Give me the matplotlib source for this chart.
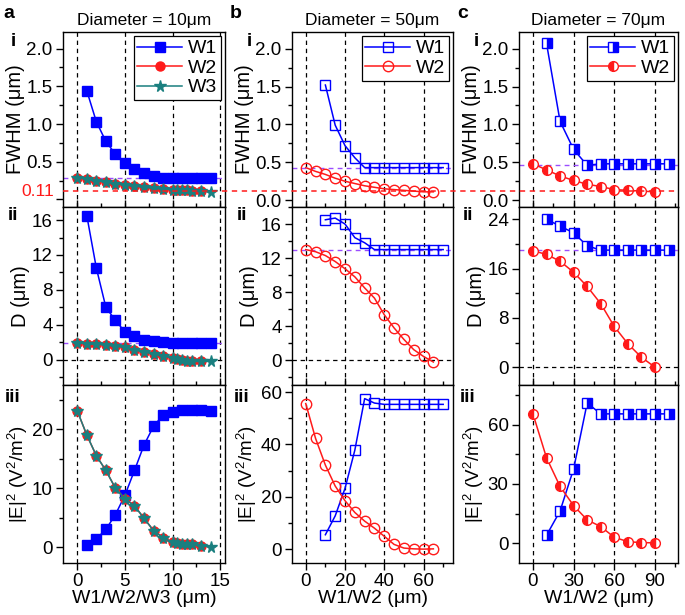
import matplotlib
matplotlib.use("Agg")
import matplotlib.pyplot as plt
from matplotlib.lines import Line2D
from matplotlib.ticker import MultipleLocator

plt.rcParams['font.family'] = ['Liberation Sans', 'DejaVu Sans']
plt.rcParams['mathtext.fontset'] = 'custom'
plt.rcParams['mathtext.rm'] = 'Liberation Sans'
plt.rcParams['mathtext.it'] = 'Liberation Sans:italic'
plt.rcParams['mathtext.bf'] = 'Liberation Sans:bold'

BLUE = '#0000ff'
RED = '#ff1a1a'
TEAL = '#1a7f7f'
PURPLE = '#9a4dff'

# ---- panel a: diameter 10 um ----
a_w1_x = [1, 2, 3, 4, 5, 6, 7, 8, 9, 10, 11, 12, 13, 14]
a_w1_fwhm = [1.44, 1.03, 0.77, 0.60, 0.48, 0.40, 0.35, 0.31, 0.29, 0.28, 0.28, 0.28, 0.28, 0.28]
a_w1_d = [16.5, 10.5, 6.0, 4.5, 3.2, 2.75, 2.3, 2.1, 2.0, 1.95, 1.95, 1.95, 1.95, 1.95]
a_w1_e = [0.4, 1.4, 3.0, 5.5, 8.8, 13.0, 17.3, 20.5, 22.4, 23.0, 23.2, 23.2, 23.2, 23.1]

a_w2_x = [0, 1, 2, 3, 4, 5, 6, 7, 8, 9, 10, 10.5, 11, 11.5, 12, 13]
a_w2_fwhm = [0.29, 0.27, 0.25, 0.23, 0.21, 0.19, 0.18, 0.16, 0.15, 0.14, 0.13, 0.125, 0.12, 0.12, 0.115, 0.11]
a_w2_d = [1.93, 1.85, 1.77, 1.7, 1.55, 1.4, 1.15, 0.9, 0.67, 0.45, 0.2, 0.1, 0.0, -0.1, -0.2, -0.2]
a_w2_e = [23.1, 19.0, 15.5, 13.0, 10.0, 8.2, 7.0, 4.9, 2.8, 1.6, 0.8, 0.7, 0.6, 0.6, 0.5, 0.2]

a_w3_x = [0, 1, 2, 3, 4, 5, 6, 7, 8, 9, 10, 10.5, 11, 11.5, 12, 13, 14]
a_w3_fwhm = [0.29, 0.27, 0.25, 0.23, 0.21, 0.19, 0.18, 0.16, 0.15, 0.14, 0.13, 0.125, 0.12, 0.12, 0.115, 0.11, 0.10]
a_w3_d = [1.93, 1.85, 1.77, 1.7, 1.55, 1.4, 1.15, 0.9, 0.67, 0.45, 0.2, 0.1, 0.0, -0.1, -0.2, -0.2, -0.2]
a_w3_e = [23.1, 19.0, 15.5, 13.0, 10.0, 8.2, 7.0, 4.9, 2.8, 1.6, 0.8, 0.7, 0.6, 0.6, 0.5, 0.2, 0.05]

# ---- panel b: diameter 50 um ----
b_w1_x = [10, 15, 20, 25, 30, 35, 40, 45, 50, 55, 60, 65, 70]
b_w1_fwhm = [1.52, 0.99, 0.72, 0.56, 0.43, 0.43, 0.43, 0.43, 0.43, 0.43, 0.43, 0.43, 0.43]
b_w1_d = [16.5, 16.7, 16.0, 14.4, 13.8, 13.0, 13.0, 13.0, 13.0, 13.0, 13.0, 13.0, 13.0]
b_w1_e = [5.5, 12.7, 23.2, 37.8, 57.5, 55.8, 55.3, 55.3, 55.3, 55.3, 55.3, 55.3, 55.3]

b_w2_x = [0, 5, 10, 15, 20, 25, 30, 35, 40, 45, 50, 55, 60, 65]
b_w2_fwhm = [0.43, 0.38, 0.34, 0.29, 0.25, 0.22, 0.19, 0.17, 0.15, 0.14, 0.13, 0.12, 0.11, 0.11]
b_w2_d = [13.0, 12.75, 12.3, 11.6, 10.75, 9.8, 8.5, 7.3, 5.35, 3.8, 2.45, 1.25, 0.45, -0.2]
b_w2_e = [55.6, 42.3, 32.1, 24.1, 18.5, 14.0, 10.7, 8.0, 4.9, 1.8, 0.4, 0.1, 0.0, 0.1]

# ---- panel c: diameter 70 um ----
c_w1_x = [10, 20, 30, 40, 50, 60, 70, 80, 90, 100]
c_w1_fwhm = [2.07, 1.04, 0.67, 0.46, 0.48, 0.48, 0.48, 0.48, 0.48, 0.48]
c_w1_d = [24.0, 22.9, 21.8, 19.7, 19.0, 19.0, 19.0, 19.0, 19.0, 19.0]
c_w1_e = [4.0, 16.3, 37.6, 70.9, 65.4, 65.4, 65.4, 65.4, 65.4, 65.4]

c_w2_x = [0, 10, 20, 30, 40, 50, 60, 70, 80, 90]
c_w2_fwhm = [0.48, 0.40, 0.32, 0.26, 0.21, 0.18, 0.14, 0.13, 0.12, 0.11]
c_w2_d = [18.9, 18.3, 17.2, 15.4, 13.1, 10.3, 6.6, 3.8, 1.6, 0.0]
c_w2_e = [65.4, 43.2, 28.7, 19.0, 11.8, 8.4, 3.0, 0.8, 0.3, 0.2]

diameters = ['10', '50', '70']
letters = ['a', 'b', 'c']
xlabels = ['W1/W2/W3 (\u03bcm)', 'W1/W2 (\u03bcm)', 'W1/W2 (\u03bcm)']
ylabels = ['FWHM (\u03bcm)', 'D (\u03bcm)', '|E|$^2$ (V$^2$/m$^2$)']
ylabel_fs = [14.5, 14.5, 13.5]
row_names = ['i', 'ii', 'iii']

fig = plt.figure(figsize=(6.85, 6.15), dpi=100)

W, H = 685.0, 615.0
col_px = [(63, 225), (292, 453), (519, 678)]
row_px = [(32, 207), (207, 385), (385, 563)]

xlims = [(-1.5, 15.5), (-7, 75), (-10.3, 107)]
xmajor = [5, 20, 30]
xvlines = [[0, 5, 10, 15], [0, 20, 40, 60], [0, 30, 60, 90]]
xticks = [[0, 5, 10, 15], [0, 20, 40, 60], [0, 30, 60, 90]]

ylims = [
    [(-0.1, 2.22), (-2.9, 17.5), (-2.7, 27.5)],
    [(-0.09, 2.22), (-2.9, 18.0), (-5.3, 62.7)],
    [(-0.09, 2.22), (-2.9, 26.0), (-10, 80)],
]
yticks = [
    [[0, 0.5, 1.0, 1.5, 2.0], [0, 4, 8, 12, 16], [0, 10, 20]],
    [[0, 0.5, 1.0, 1.5, 2.0], [0, 4, 8, 12, 16], [0, 20, 40, 60]],
    [[0, 0.5, 1.0, 1.5, 2.0], [0, 8, 16, 24], [0, 30, 60]],
]
yminor = [[0.25, 2, 5], [0.25, 2, 10], [0.25, 4, 15]]
purple_y = [[0.28, 1.93], [0.43, 13.0], [0.47, 19.0]]

# positions of the bold row labels (pixels)
row_label_px = [
    [(13, 42), (13, 216), (13, 398)],
    [(249, 42), (242, 216), (242, 398)],
    [(476, 42), (468, 216), (468, 398)],
]
letter_px = [(9, 13), (236, 13), (463, 13)]

series = [
    [
        (a_w1_x, [a_w1_fwhm, a_w1_d, a_w1_e], dict(color=BLUE, marker='s', mfc=BLUE, mec=BLUE), 'W1'),
        (a_w2_x, [a_w2_fwhm, a_w2_d, a_w2_e], dict(color=RED, marker='o', mfc=RED, mec=RED), 'W2'),
        (a_w3_x, [a_w3_fwhm, a_w3_d, a_w3_e], dict(color=TEAL, marker='*', mfc=TEAL, mec=TEAL, ms=8.5), 'W3'),
    ],
    [
        (b_w1_x, [b_w1_fwhm, b_w1_d, b_w1_e], dict(color=BLUE, marker='s', mfc='none', mec=BLUE), 'W1'),
        (b_w2_x, [b_w2_fwhm, b_w2_d, b_w2_e], dict(color=RED, marker='o', mfc='none', mec=RED, ms=7.5), 'W2'),
    ],
    [
        (c_w1_x, [c_w1_fwhm, c_w1_d, c_w1_e], dict(color=BLUE, marker='s', mfc=BLUE, mec=BLUE,
                                                  fillstyle='right', markerfacecoloralt='white'), 'W1'),
        (c_w2_x, [c_w2_fwhm, c_w2_d, c_w2_e], dict(color=RED, marker='o', mfc=RED, mec=RED,
                                                  fillstyle='left', markerfacecoloralt='white', ms=7), 'W2'),
    ],
]

TICK_FS = 13.5
dash = (0, (3.5, 3))
first_ax = None

for c in range(3):
    x0, x1 = col_px[c]
    for r in range(3):
        y0, y1 = row_px[r]
        ax = fig.add_axes([x0 / W, 1 - y1 / H, (x1 - x0) / W, (y1 - y0) / H])
        ax.set_xlim(*xlims[c])
        ax.set_ylim(*ylims[c][r])

        for xv in xvlines[c]:
            ax.axvline(xv, color='black', ls=dash, lw=0.9, zorder=1)
        if r < 2:
            ax.axhline(purple_y[c][r], color=PURPLE, ls=dash, lw=1.0, zorder=1)
        if r == 1:
            ax.axhline(0, color='black', ls=dash, lw=0.9, zorder=1)

        for xs, ys, style, name in series[c]:
            kw = dict(lw=1.1, ms=6.5)
            kw.update(style)
            ax.plot(xs, ys[r], label=name, zorder=3, **kw)

        ax.set_xticks(xticks[c])
        ax.xaxis.set_minor_locator(MultipleLocator(xmajor[c] / 2))
        ax.set_yticks(yticks[c][r])
        ax.yaxis.set_minor_locator(MultipleLocator(yminor[c][r]))
        ax.tick_params(which='both', direction='out', labelsize=TICK_FS, width=1.0,
                       top=(r > 0), right=False, pad=2.5)
        ax.tick_params(which='major', length=5)
        ax.tick_params(which='minor', length=3)
        if r < 2:
            ax.set_xticklabels([])
        else:
            ax.set_xlabel(xlabels[c], fontsize=14, labelpad=0)
        if r == 0:
            if c == 0:
                ax.set_yticklabels(['', '0.5', '1.0', '1.5', '2.0'])
                ax.text(-0.055, 0.11, '0.11', color=RED, fontsize=12.5, ha='right', va='center',
                        transform=ax.get_yaxis_transform())
                first_ax = ax
            else:
                ax.set_yticklabels(['0.0', '0.5', '1.0', '1.5', '2.0'])
            ax.set_title('Diameter = %s\u03bcm' % diameters[c], fontsize=12.5, pad=5)
            leg = ax.legend(loc='upper right', fontsize=14, frameon=True, fancybox=False,
                            edgecolor='black', borderaxespad=0.2, handlelength=2.3,
                            handletextpad=0.3, borderpad=0.2, labelspacing=0.1,
                            framealpha=1)
            leg.get_frame().set_linewidth(0.9)
        ax.set_ylabel(ylabels[r], fontsize=ylabel_fs[r], labelpad=1)
        for sp in ax.spines.values():
            sp.set_linewidth(1.0)

        lx, ly = row_label_px[c][r]
        fig.text(lx / W, 1 - ly / H, row_names[r], fontsize=13.5, fontweight='bold',
                 ha='center', va='center')
    lx, ly = letter_px[c]
    fig.text(lx / W, 1 - ly / H, letters[c], fontsize=14, fontweight='bold',
             ha='center', va='center')

# red 0.11 guide across all three top panels
fig.canvas.draw()
y_fig = fig.transFigure.inverted().transform(first_ax.transData.transform((0, 0.11)))[1]
fig.add_artist(Line2D([col_px[0][0] / W, col_px[2][1] / W], [y_fig, y_fig],
                      transform=fig.transFigure, color=RED, ls=dash, lw=1.1, zorder=5))

fig.savefig('out.png', dpi=100)
